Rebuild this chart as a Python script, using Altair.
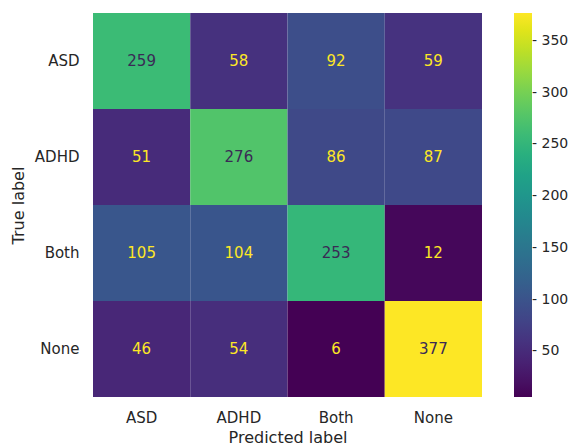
import altair as alt
import pandas as pd

labels = ["ASD", "ADHD", "Both", "None"]
matrix = [
    [259, 58, 92, 59],
    [51, 276, 86, 87],
    [105, 104, 253, 12],
    [46, 54, 6, 377],
]
legend_ticks = [50, 100, 150, 200, 250, 300, 350]

rows = []
for i, t in enumerate(labels):
    for j, p in enumerate(labels):
        rows.append({"True label": t, "Predicted label": p, "value": matrix[i][j]})
df = pd.DataFrame(rows)

vmin = min(min(r) for r in matrix)
vmax = max(max(r) for r in matrix)
thresh = (vmin + vmax) / 2

FONT = "DejaVu Sans"
TXT = "#262626"

x_enc = alt.X("Predicted label:N", sort=labels,
              scale=alt.Scale(paddingInner=0, paddingOuter=0),
              axis=alt.Axis(labelAngle=0, ticks=False, domain=False, labelPadding=13,
                            titlePadding=4, labelFontSize=15, titleFontSize=16,
                            labelColor=TXT, titleColor=TXT, labelFont=FONT, titleFont=FONT,
                            titleFontWeight="normal"))
y_enc = alt.Y("True label:N", sort=labels,
              scale=alt.Scale(paddingInner=0, paddingOuter=0),
              axis=alt.Axis(ticks=False, domain=False, labelPadding=14,
                            titlePadding=8, labelFontSize=15, titleFontSize=16,
                            labelColor=TXT, titleColor=TXT, labelFont=FONT, titleFont=FONT,
                            titleFontWeight="normal"))

base = alt.Chart(df)

cells = base.mark_rect(stroke=None).encode(
    x=x_enc,
    y=y_enc,
    color=alt.Color("value:Q",
                    scale=alt.Scale(scheme="viridis", domain=[vmin, vmax], zero=False, nice=False),
                    legend=alt.Legend(
                        title=None, orient="none", legendX=421, legendY=0,
                        direction="vertical", gradientLength=384, gradientThickness=18,
                        values=legend_ticks, labelOverlap=False, labelLimit=200,
                        labelExpr="'- ' + datum.label", labelOffset=0,
                        labelFontSize=14, labelFont=FONT, labelColor=TXT,
                        gradientStrokeWidth=0)),
)

text = base.mark_text(font=FONT, fontSize=15).encode(
    x=alt.X("Predicted label:N", sort=labels),
    y=alt.Y("True label:N", sort=labels),
    text=alt.Text("value:Q"),
    color=alt.condition(alt.datum.value > thresh, alt.value("#3a2a55"), alt.value("#fde725")),
)

chart = alt.layer(cells, text).properties(
    width=389, height=384,
    autosize=alt.AutoSizeParams(type="none"),
    padding={"left": 85, "top": 5, "right": 88, "bottom": 60},
    background="white",
).configure_view(stroke=None)

chart.save("out.html", embed_options={"renderer": "svg", "actions": False})
